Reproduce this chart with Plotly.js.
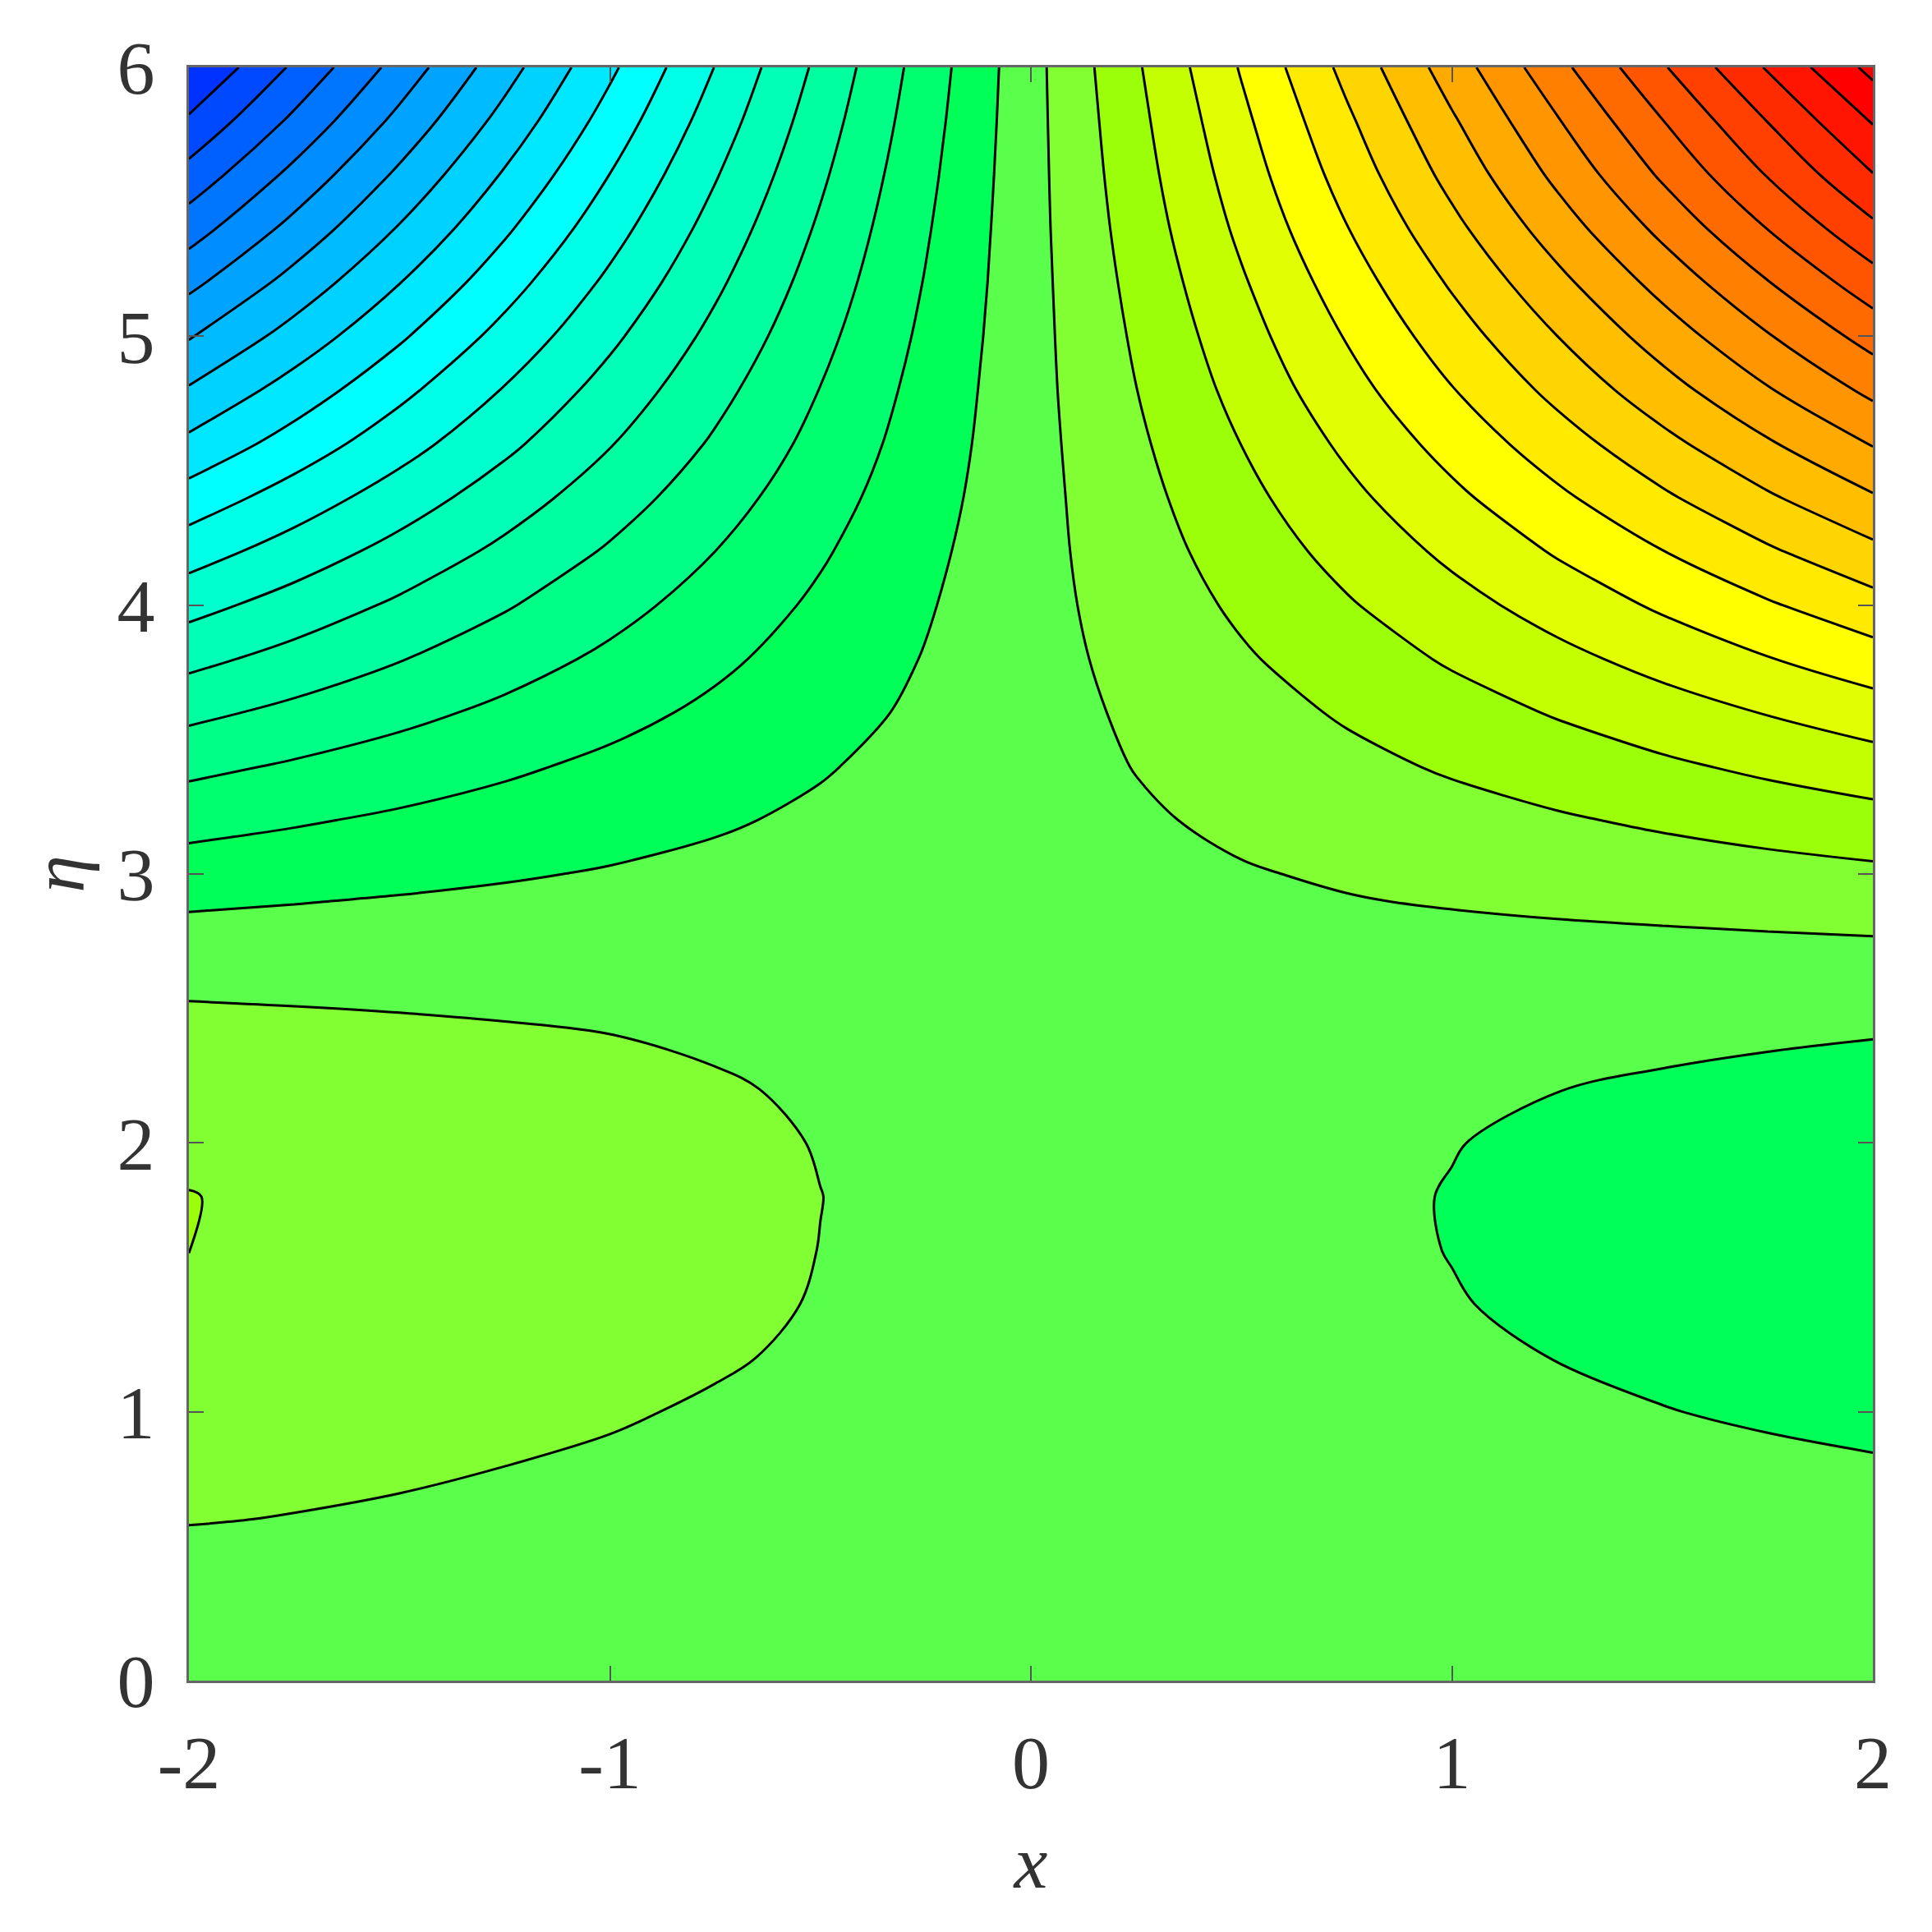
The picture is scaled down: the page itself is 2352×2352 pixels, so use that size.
<!DOCTYPE html>
<html><head><meta charset="utf-8">
<script src="https://cdn.plot.ly/plotly-3.0.1.min.js"></script>
<style>html,body{margin:0;padding:0;background:#fff}</style></head>
<body><div id="chart" style="width:2352px;height:2352px"></div>
<script>
const xValues = [-2,-1.75,-1.5,-1.25,-1,-0.75,-0.5,-0.25,0,0.25,0.5,0.75,1,1.25,1.5,1.75,2];
const etaValues = [0,0.2,0.4,0.6,0.8,1,1.2,1.4,1.6,1.8,2,2.2,2.4,2.6,2.8,2.9,3,3.2,3.4,3.6,3.8,4,4.2,4.4,4.6,4.8,5,5.2,5.4,5.6,5.8,6];
const zRows = [
[0,0,0,0,0,0,0,0,0,0,0,0,0,0,0,0,0],
[0.09,0.082,0.075,0.068,0.06,0.052,0.045,0.04,0.03,0.02,0.015,0.008,0,-0.008,-0.015,-0.022,-0.03],
[0.26,0.238,0.215,0.192,0.17,0.148,0.125,0.10,0.08,0.06,0.035,0.012,-0.01,-0.032,-0.055,-0.078,-0.10],
[0.53,0.48,0.43,0.38,0.33,0.28,0.23,0.18,0.13,0.08,0.03,-0.02,-0.07,-0.12,-0.17,-0.22,-0.27],
[0.72,0.648,0.575,0.502,0.43,0.358,0.285,0.21,0.14,0.07,-0.005,-0.078,-0.15,-0.222,-0.295,-0.368,-0.44],
[0.96,0.858,0.755,0.652,0.55,0.445,0.34,0.24,0.137,0.034,-0.07,-0.172,-0.275,-0.378,-0.48,-0.585,-0.69],
[1.21,1.08,0.95,0.815,0.68,0.55,0.42,0.285,0.152,0.02,-0.11,-0.245,-0.38,-0.51,-0.64,-0.775,-0.91],
[1.40,1.245,1.09,0.935,0.78,0.625,0.47,0.31,0.157,0,-0.155,-0.31,-0.466,-0.623,-0.78,-0.935,-1.09],
[1.505,1.335,1.165,0.998,0.83,0.662,0.494,0.325,0.157,-0.01,-0.18,-0.348,-0.516,-0.683,-0.85,-1.02,-1.19],
[1.52,1.352,1.185,1.012,0.84,0.672,0.505,0.33,0.157,-0.015,-0.185,-0.356,-0.528,-0.7,-0.87,-1.04,-1.21],
[1.36,1.238,1.115,0.955,0.796,0.637,0.478,0.32,0.159,0,-0.16,-0.319,-0.478,-0.637,-0.796,-0.955,-1.115],
[1.207,1.076,0.946,0.815,0.685,0.555,0.424,0.293,0.163,0.033,-0.098,-0.228,-0.359,-0.49,-0.62,-0.75,-0.881],
[0.83,0.748,0.667,0.586,0.505,0.424,0.343,0.26,0.18,0.10,0.018,-0.063,-0.145,-0.226,-0.308,-0.39,-0.47],
[0.31,0.29,0.27,0.252,0.235,0.215,0.195,0.18,0.165,0.15,0.13,0.112,0.095,0.078,0.06,0.04,0.02],
[-0.30,-0.245,-0.19,-0.135,-0.08,-0.022,0.035,0.09,0.145,0.20,0.255,0.312,0.37,0.425,0.48,0.535,0.59],
[-0.64,-0.538,-0.436,-0.334,-0.232,-0.13,-0.028,0.074,0.176,0.272,0.368,0.464,0.56,0.656,0.753,0.849,0.945],
[-1.03,-0.88,-0.73,-0.582,-0.435,-0.286,-0.138,0.01,0.16,0.30,0.445,0.588,0.73,0.872,1.015,1.158,1.30],
[-1.85,-1.60,-1.35,-1.10,-0.85,-0.60,-0.35,-0.10,0.15,0.40,0.65,0.899,1.148,1.397,1.646,1.895,2.145],
[-2.75,-2.385,-2.02,-1.658,-1.295,-0.932,-0.568,-0.204,0.16,0.522,0.885,1.248,1.61,1.972,2.335,2.698,3.06],
[-3.74,-3.255,-2.77,-2.282,-1.795,-1.309,-0.823,-0.336,0.15,0.635,1.12,1.605,2.09,2.575,3.06,3.545,4.03],
[-4.78,-4.162,-3.545,-2.928,-2.31,-1.692,-1.075,-0.458,0.16,0.774,1.388,2.002,2.615,3.229,3.843,4.456,5.07],
[-5.84,-5.09,-4.34,-3.588,-2.835,-2.084,-1.333,-0.581,0.17,0.916,1.663,2.409,3.155,3.902,4.648,5.394,6.14],
[-6.95,-6.06,-5.17,-4.28,-3.39,-2.50,-1.61,-0.72,0.17,1.055,1.94,2.825,3.71,4.595,5.48,6.365,7.25],
[-8.08,-7.05,-6.02,-4.99,-3.96,-2.93,-1.90,-0.87,0.16,1.19,2.22,3.25,4.28,5.31,6.34,7.37,8.40],
[-9.26,-8.082,-6.905,-5.728,-4.55,-3.372,-2.195,-1.018,0.16,1.335,2.51,3.685,4.86,6.035,7.21,8.385,9.56],
[-10.40,-9.08,-7.76,-6.439,-5.118,-3.798,-2.477,-1.156,0.165,1.487,2.809,4.131,5.453,6.775,8.097,9.418,10.74],
[-11.58,-10.11,-8.64,-7.172,-5.705,-4.238,-2.77,-1.303,0.165,1.63,3.095,4.562,6.03,7.495,8.96,10.425,11.89],
[-12.76,-11.142,-9.525,-7.91,-6.295,-4.68,-3.065,-1.45,0.165,1.78,3.39,5.005,6.62,8.23,9.84,11.455,13.07],
[-13.95,-12.185,-10.42,-8.655,-6.89,-5.125,-3.36,-1.595,0.17,1.934,3.70,5.462,7.225,8.988,10.75,12.515,14.28],
[-15.14,-13.225,-11.31,-9.398,-7.485,-5.572,-3.66,-1.744,0.17,2.08,3.99,5.902,7.815,9.728,11.64,13.55,15.46],
[-16.35,-14.285,-12.22,-10.155,-8.09,-6.025,-3.96,-1.895,0.17,2.22,4.27,6.32,8.37,10.42,12.47,14.52,16.57],
[-17.55,-15.335,-13.12,-10.905,-8.69,-6.475,-4.26,-2.045,0.17,2.374,4.58,6.782,8.985,11.188,13.39,15.595,17.8]
];
const bandColors = [
'rgb(0,50,255)','rgb(0,73,255)','rgb(0,96,255)','rgb(0,118,255)','rgb(0,141,255)','rgb(0,164,255)','rgb(0,187,255)','rgb(0,210,255)','rgb(0,232,255)',
'rgb(0,255,255)','rgb(0,255,231)','rgb(0,255,207)','rgb(0,255,183)','rgb(0,255,159)','rgb(0,255,135)','rgb(0,255,111)','rgb(0,255,87)',
'rgb(90,255,75)','rgb(130,255,50)','rgb(155,255,10)','rgb(195,255,0)','rgb(225,255,0)','rgb(255,255,0)',
'rgb(255,234,0)','rgb(255,213,0)','rgb(255,191,0)','rgb(255,170,0)','rgb(255,149,0)','rgb(255,128,0)','rgb(255,106,0)','rgb(255,85,0)','rgb(255,64,0)','rgb(255,43,0)','rgb(255,21,0)','rgb(255,0,0)','rgb(245,0,0)'
];
const xTickVals = [-2,-1,0,1,2];
const xTickText = ['-2','-1','0','1','2'];
const yTickVals = [0,1,2,3,4,5,6];
const yTickText = ['0','1','2','3','4','5','6'];
const font = {family:'"Liberation Serif", serif', size:92, color:'#333'};
const colorscale = bandColors.map((c,i)=>[i/(bandColors.length-1),c]);
const axisBase = {showline:true, linecolor:'#666', linewidth:3, mirror:'ticks', ticks:'inside', ticklen:18, tickwidth:2, tickcolor:'#555',
  showgrid:false, zeroline:false, tickfont:font, tickmode:'array', automargin:false};
Plotly.newPlot('chart',[{
  type:'contour', x:xValues, y:etaValues, z:zRows, autocontour:false,
  contours:{start:-16.5,end:17.5,size:1,coloring:'fill',showlines:true},
  line:{color:'#000',width:3,smoothing:1},
  colorscale:colorscale, showscale:false, hoverinfo:'skip'
}],{
  width:2352,height:2352,paper_bgcolor:'#fff',plot_bgcolor:'#fff',showlegend:false,
  margin:{l:229.5,r:72,t:82,b:306,pad:0},
  xaxis:Object.assign({},axisBase,{range:[-2,2],tickvals:xTickVals,ticktext:xTickText,ticklabelstandoff:18,
    title:{text:'<i>x</i>',font:font,standoff:38}}),
  yaxis:Object.assign({},axisBase,{range:[0,6],tickvals:yTickVals,ticktext:yTickText,ticklabelstandoff:20,
    title:{text:'<i>η</i>',font:font,standoff:10}})
},{displayModeBar:false,staticPlot:true});
</script></body></html>
